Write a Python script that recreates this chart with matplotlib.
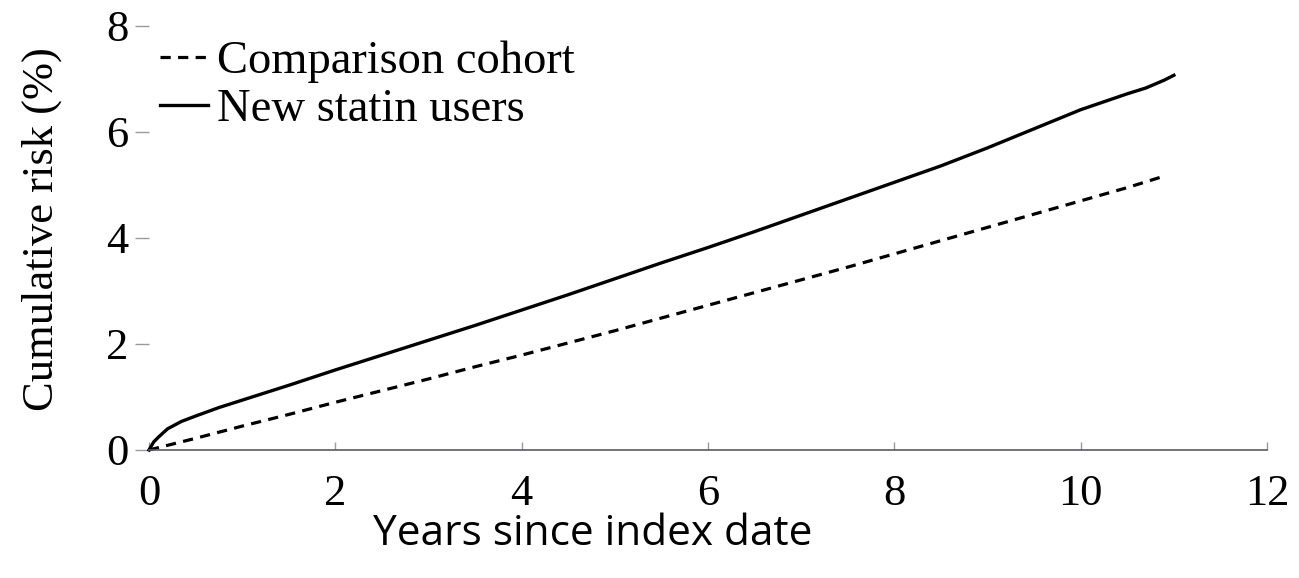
import matplotlib
matplotlib.use("Agg")
import matplotlib.pyplot as plt

# years since index date and cumulative risk (%)
years_statin = [0, 0.05, 0.1, 0.2, 0.35, 0.5, 0.75, 1, 1.5, 2, 2.5, 3, 3.5, 4, 4.5, 5,
                5.5, 6, 6.5, 7, 7.5, 8, 8.5, 9, 9.5, 10, 10.5, 10.7, 10.9, 11.0]
risk_statin = [0, 0.15, 0.24, 0.40, 0.54, 0.64, 0.80, 0.94, 1.22, 1.51, 1.79, 2.07, 2.35,
               2.64, 2.93, 3.23, 3.53, 3.82, 4.12, 4.43, 4.74, 5.05, 5.36, 5.70, 6.06,
               6.42, 6.72, 6.83, 6.98, 7.07]

years_comp = [0, 0.5, 1, 1.5, 2, 2.5, 3, 3.5, 4, 4.5, 5, 5.5, 6, 6.5, 7, 7.5, 8, 8.5,
              9, 9.5, 10, 10.5, 10.92]
risk_comp = [0, 0.22, 0.45, 0.67, 0.90, 1.12, 1.34, 1.57, 1.79, 2.02, 2.25, 2.49, 2.73,
             2.97, 3.21, 3.45, 3.70, 3.95, 4.20, 4.45, 4.70, 4.95, 5.18]

xticks = [0, 2, 4, 6, 8, 10, 12]
yticks = [0, 2, 4, 6, 8]

plt.rcParams['font.family'] = ['Liberation Serif', 'DejaVu Serif']

fig = plt.figure(figsize=(12.99, 5.78), dpi=100)
ax = fig.add_axes([0.1147, 0.2215, 0.8607, 0.7336])

ax.plot(years_comp, risk_comp, color='black', lw=2.3, dashes=(3.2, 2.3),
        label='Comparison cohort', clip_on=False)
ax.plot(years_statin, risk_statin, color='black', lw=2.4,
        label='New statin users', clip_on=False)

ax.set_xlim(0, 12)
ax.set_ylim(0, 8)
ax.set_xticks(xticks)
ax.set_yticks(yticks)

for side in ['left', 'top', 'right']:
    ax.spines[side].set_visible(False)
ax.spines['bottom'].set_color('#5f5a66')
ax.spines['bottom'].set_linewidth(1.2)

ax.tick_params(axis='x', direction='in', length=6, width=1, color='#9a9a9a',
               labelsize=32, pad=17)
ax.tick_params(axis='y', direction='out', length=10, width=1, color='#9a9a9a',
               labelsize=32, pad=5)

ax.set_ylabel('Cumulative risk (%)', fontsize=32)
ax.yaxis.set_label_coords(-0.078, 0.52)

fig.text(0.4565, 0.057, 'Years since index date', fontsize=30.5,
         family=['Open Sans', 'DejaVu Sans'], ha='center', va='baseline')

ax.legend(loc='upper left', bbox_to_anchor=(0.01, 0.965), frameon=False,
          fontsize=33.5, handlelength=1.03, handletextpad=0.2, labelspacing=0.11,
          borderpad=0, borderaxespad=0)

fig.savefig('out.png', dpi=100)
